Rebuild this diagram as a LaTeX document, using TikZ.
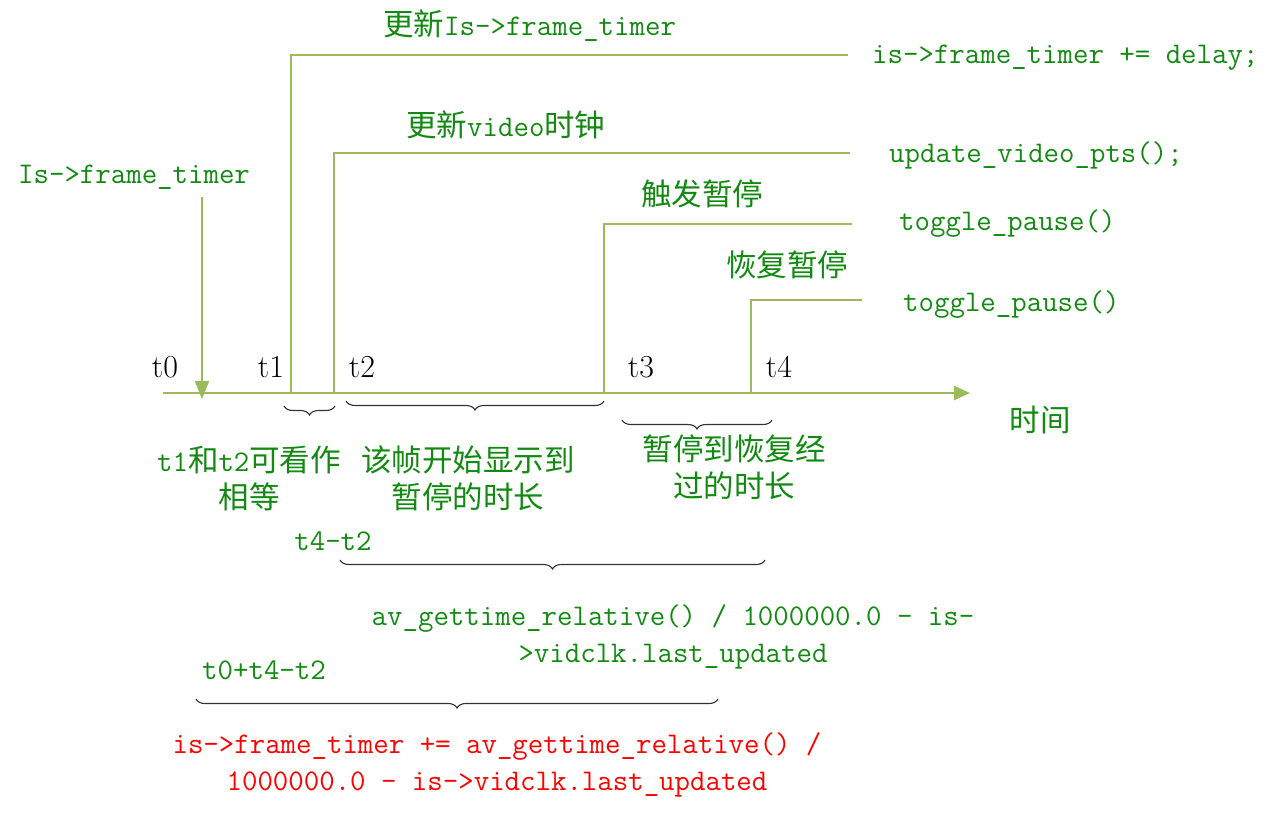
\documentclass[tikz,border=0pt]{standalone}
\usepackage{fontspec}
\newfontfamily\cjk{Noto Sans CJK SC}
\usetikzlibrary{arrows.meta,decorations.pathreplacing}
\definecolor{lgreen}{HTML}{9BBB59}
\definecolor{tgreen}{HTML}{128A12}
\newcommand\zh[1]{{\cjk\fontsize{30.5}{37}\selectfont #1}}
\tikzset{
  gt/.style={text=tgreen, font=\ttfamily\fontsize{30}{37}\selectfont, inner sep=0pt, align=center},
  rt/.style={gt, text=red},
  tl/.style={text=black, font=\fontsize{32}{34}\selectfont, inner sep=0pt},
  gline/.style={draw=lgreen, line width=2pt},
  axis/.style={draw=lgreen, line width=2.6pt, -{Triangle[width=14pt,length=16pt]}},
  br/.style={draw=black!80, line width=1.1pt, decorate, decoration={brace, mirror, amplitude=9pt}}
}
\begin{document}
\begin{tikzpicture}[x=1pt,y=-1pt]
\useasboundingbox (0,0) rectangle (1286,815);
% coordinates
\coordinate (a0) at (163,393);
\coordinate (a1) at (970,393);
\coordinate (b1) at (291,393);
\coordinate (e1) at (848,55);
\coordinate (b2) at (334,393);
\coordinate (e2) at (850,153);
\coordinate (b3) at (604,393);
\coordinate (e3) at (852,224);
\coordinate (b4) at (751,393);
\coordinate (e4) at (862,300);
\coordinate (ds) at (202,197);
\coordinate (de) at (202,399);
% lines
\draw[gline] (b1) |- (e1);
\draw[gline] (b2) |- (e2);
\draw[gline] (b3) |- (e3);
\draw[gline] (b4) |- (e4);
\draw[axis] (a0) -- (a1);
\draw[gline, -{Triangle[width=14pt,length=18pt]}] (ds) -- (de);
% labels
\node[gt, anchor=west] (l1) at (383,26) {\zh{更新}Is->frame\_timer};
\node[gt, anchor=west] (c1) at (872,58) {is->frame\_timer += delay;};
\node[gt, anchor=west] (l2) at (406,125) {\zh{更新}video\zh{时钟}};
\node[gt, anchor=west] (c2) at (889,155) {update\_video\_pts();};
\node[gt] (l3) at (702,194) {\zh{触发暂停}};
\node[gt, anchor=west] (c3) at (899,224) {toggle\_pause()};
\node[gt] (l4) at (787,265) {\zh{恢复暂停}};
\node[gt, anchor=west] (c4) at (903,305) {toggle\_pause()};
\node[gt, anchor=west] (ift) at (18,177) {Is->frame\_timer};
\node[tl] (t0) at (165,367) {t0};
\node[tl] (t1) at (271,367) {t1};
\node[tl] (t2) at (362,367) {t2};
\node[tl] (t3) at (641,367) {t3};
\node[tl] (t4) at (779,367) {t4};
\node[gt] (time) at (1040,420) {\zh{时间}};
% braces
\draw[br] (284,406) -- (335,406);
\draw[br] (346,401) -- (604,401);
\draw[br] (622,420) -- (772,420);
\draw[br] (340,560) -- (765,560);
\draw[br] (196,699) -- (718,699);
% descriptions
\node[gt] (d1) at (249,478) {t1\zh{和}t2\zh{可看作}\\\zh{相等}};
\node[gt] (d2) at (468,478) {\zh{该帧开始显示到}\\\zh{暂停的时长}};
\node[gt] (d3) at (734,467) {\zh{暂停到恢复经}\\\zh{过的时长}};
\node[gt] (tt) at (333,541) {t4-t2};
\node[gt] (f1) at (673,637) {av\_gettime\_relative() / 1000000.0 - is-\\>vidclk.last\_updated};
\node[gt] (tt2) at (264,670) {t0+t4-t2};
\node[rt] (f2) at (497,765) {is->frame\_timer += av\_gettime\_relative() /\\1000000.0 - is->vidclk.last\_updated};
\end{tikzpicture}
\end{document}
